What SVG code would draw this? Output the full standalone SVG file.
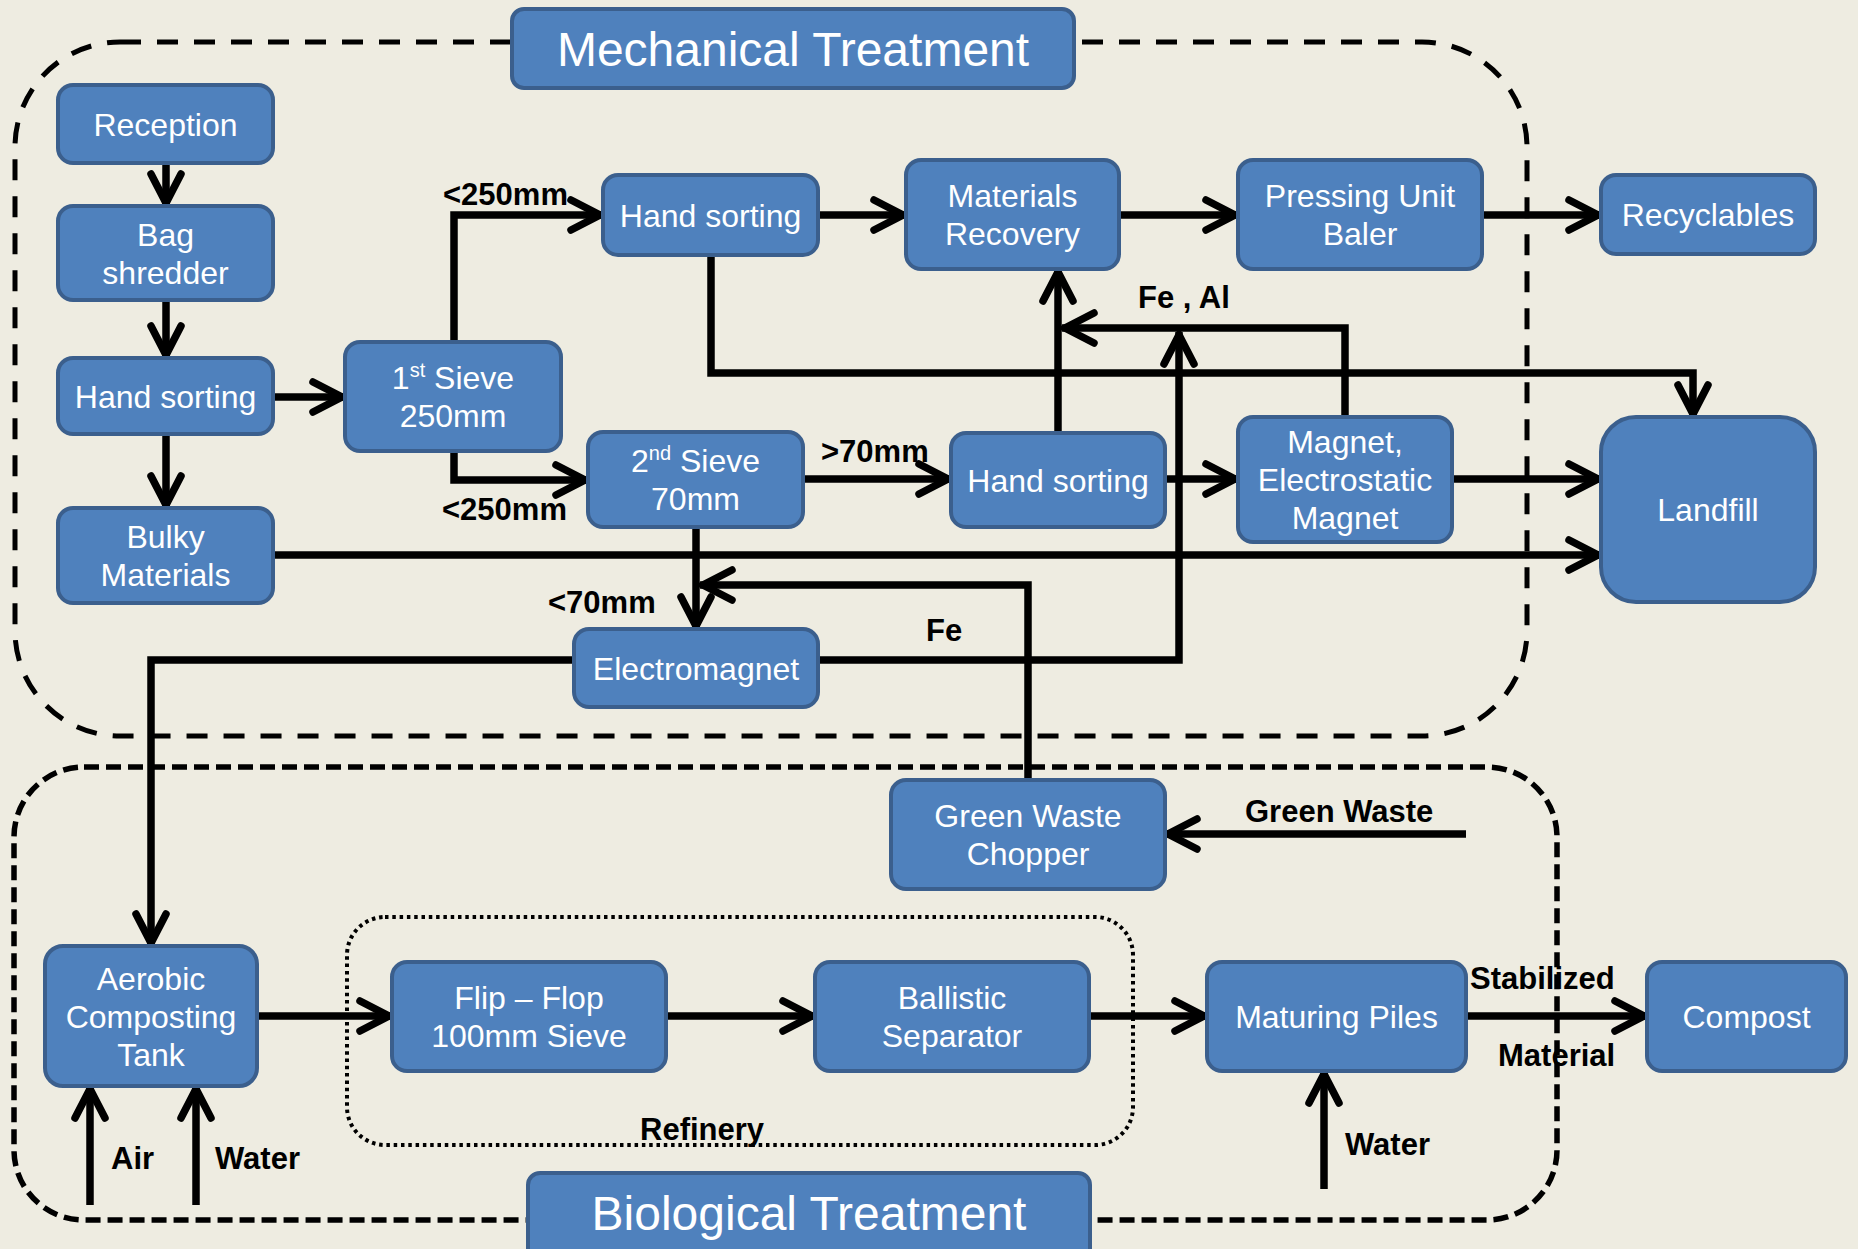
<svg xmlns="http://www.w3.org/2000/svg" width="1858" height="1249" viewBox="0 0 1858 1249">
  <style>
    .node rect { fill: #4F81BD; stroke: #3B5F8D; stroke-width: 4; }
    .node text { fill: #FFFFFF; font-family: "Liberation Sans", Arial, sans-serif; font-size: 32px; text-anchor: middle; }
    .title text { font-size: 48px; }
    .lbl { fill: #000000; font-family: "Liberation Sans", Arial, sans-serif; font-size: 31px; font-weight: bold; }
    .conn { fill: none; stroke: #000000; stroke-width: 7.5; stroke-linejoin: miter; marker-end: url(#arrow); }
    .zone { fill: none; stroke: #000000; }
  </style>
  <defs>
    <marker id="arrow" markerUnits="userSpaceOnUse" orient="auto" refX="0" refY="0" markerWidth="60" markerHeight="60" overflow="visible">
      <path d="M-32,-15 L-3,0 L-32,15" fill="none" stroke="#000000" stroke-width="7.5" stroke-linecap="round" stroke-linejoin="miter"/>
    </marker>
  </defs>

  <!-- background -->
  <rect x="0" y="0" width="1858" height="1249" fill="#EEECE1"/>

  <!-- treatment zones -->
  <g id="zones">
    <rect class="zone" x="15" y="42" width="1512" height="694" rx="105" ry="105" stroke-width="5" stroke-dasharray="21 16"/>
    <rect class="zone" x="14" y="767" width="1543" height="453" rx="70" ry="70" stroke-width="5.5" stroke-dasharray="15 7"/>
    <rect class="zone" x="347" y="917" width="786" height="228" rx="38" ry="38" stroke-width="4" stroke-dasharray="3.5 3.8"/>
  </g>

  <!-- connectors -->
  <g id="connectors">
    <path class="conn" d="M166,163 V206"/>
    <path class="conn" d="M166,300 V358"/>
    <path class="conn" d="M166,434 V508"/>
    <path class="conn" d="M273,397 H345"/>
    <path class="conn" d="M454,342 V215 H603"/>
    <path class="conn" d="M454,451 V480 H588"/>
    <path class="conn" d="M818,215 H906"/>
    <path class="conn" d="M1119,215 H1238"/>
    <path class="conn" d="M1482,215 H1601"/>
    <path class="conn" d="M711,255 V373 H1693 V417"/>
    <path class="conn" d="M803,479 H951"/>
    <path class="conn" d="M1058,433 V269"/>
    <path class="conn" d="M1345,417 V328 H1062"/>
    <path class="conn" d="M1165,479 H1238"/>
    <path class="conn" d="M1452,479 H1601"/>
    <path class="conn" d="M273,555 H1601"/>
    <path class="conn" d="M696,527 V629"/>
    <path class="conn" d="M818,660 H1179 V332"/>
    <path class="conn" d="M574,660 H151 V946"/>
    <path class="conn" d="M1028,780 V585 H700"/>
    <path class="conn" d="M1466,834 H1165"/>
    <path class="conn" d="M257,1016 H392"/>
    <path class="conn" d="M666,1016 H815"/>
    <path class="conn" d="M1089,1016 H1207"/>
    <path class="conn" d="M1466,1016 H1647"/>
    <path class="conn" d="M90,1205 V1086"/>
    <path class="conn" d="M196,1205 V1086"/>
    <path class="conn" d="M1324,1189 V1071"/>
  </g>

  <!-- flow labels -->
  <g id="labels">
    <text class="lbl" x="443" y="205">&lt;250mm</text>
    <text class="lbl" x="442" y="520">&lt;250mm</text>
    <text class="lbl" x="821" y="462">&gt;70mm</text>
    <text class="lbl" x="1138" y="308">Fe , Al</text>
    <text class="lbl" x="548" y="613">&lt;70mm</text>
    <text class="lbl" x="926" y="641">Fe</text>
    <text class="lbl" x="1245" y="822">Green Waste</text>
    <text class="lbl" x="1470" y="989">Stabilized</text>
    <text class="lbl" x="1498" y="1066">Material</text>
    <text class="lbl" x="111" y="1169">Air</text>
    <text class="lbl" x="215" y="1169">Water</text>
    <text class="lbl" x="640" y="1140">Refinery</text>
    <text class="lbl" x="1345" y="1155">Water</text>
  </g>

  <!-- section titles -->
  <g id="mechanical-title" class="node title">
    <rect x="512" y="9" width="562" height="79" rx="12"/>
    <text x="793" y="66">Mechanical Treatment</text>
  </g>
  <g id="biological-title" class="node title">
    <rect x="528" y="1173" width="562" height="90" rx="12"/>
    <text x="809" y="1230">Biological Treatment</text>
  </g>

  <!-- mechanical treatment nodes -->
  <g id="reception" class="node">
    <rect x="58" y="85" width="215" height="78" rx="15"/>
    <text x="165.5" y="135.5">Reception</text>
  </g>
  <g id="bag-shredder" class="node">
    <rect x="58" y="206" width="215" height="94" rx="15"/>
    <text x="165.5" y="245.5">Bag</text>
    <text x="165.5" y="283.5">shredder</text>
  </g>
  <g id="hand-sorting-1" class="node">
    <rect x="58" y="358" width="215" height="76" rx="15"/>
    <text x="165.5" y="407.5">Hand sorting</text>
  </g>
  <g id="bulky-materials" class="node">
    <rect x="58" y="508" width="215" height="95" rx="15"/>
    <text x="165.5" y="548">Bulky</text>
    <text x="165.5" y="586">Materials</text>
  </g>
  <g id="sieve-1" class="node">
    <rect x="345" y="342" width="216" height="109" rx="15"/>
    <text x="453" y="389">1<tspan font-size="20" dy="-12">st</tspan><tspan dy="12"> Sieve</tspan></text>
    <text x="453" y="427">250mm</text>
  </g>
  <g id="sieve-2" class="node">
    <rect x="588" y="432" width="215" height="95" rx="15"/>
    <text x="695.5" y="472">2<tspan font-size="20" dy="-12">nd</tspan><tspan dy="12"> Sieve</tspan></text>
    <text x="695.5" y="510">70mm</text>
  </g>
  <g id="hand-sorting-2" class="node">
    <rect x="603" y="175" width="215" height="80" rx="15"/>
    <text x="710.5" y="226.5">Hand sorting</text>
  </g>
  <g id="materials-recovery" class="node">
    <rect x="906" y="160" width="213" height="109" rx="15"/>
    <text x="1012.5" y="207">Materials</text>
    <text x="1012.5" y="245">Recovery</text>
  </g>
  <g id="pressing-unit" class="node">
    <rect x="1238" y="160" width="244" height="109" rx="15"/>
    <text x="1360" y="207">Pressing Unit</text>
    <text x="1360" y="245">Baler</text>
  </g>
  <g id="recyclables" class="node">
    <rect x="1601" y="175" width="214" height="79" rx="15"/>
    <text x="1708" y="226">Recyclables</text>
  </g>
  <g id="hand-sorting-3" class="node">
    <rect x="951" y="433" width="214" height="94" rx="15"/>
    <text x="1058" y="491.5">Hand sorting</text>
  </g>
  <g id="magnet" class="node">
    <rect x="1238" y="417" width="214" height="125" rx="15"/>
    <text x="1345" y="453">Magnet,</text>
    <text x="1345" y="491">Electrostatic</text>
    <text x="1345" y="529">Magnet</text>
  </g>
  <g id="landfill" class="node">
    <rect x="1601" y="417" width="214" height="185" rx="35"/>
    <text x="1708" y="521">Landfill</text>
  </g>
  <g id="electromagnet" class="node">
    <rect x="574" y="629" width="244" height="78" rx="15"/>
    <text x="696" y="679.5">Electromagnet</text>
  </g>

  <!-- biological treatment nodes -->
  <g id="green-waste-chopper" class="node">
    <rect x="891" y="780" width="274" height="109" rx="15"/>
    <text x="1028" y="827">Green Waste</text>
    <text x="1028" y="865">Chopper</text>
  </g>
  <g id="aerobic-tank" class="node">
    <rect x="45" y="946" width="212" height="140" rx="18"/>
    <text x="151" y="990">Aerobic</text>
    <text x="151" y="1028">Composting</text>
    <text x="151" y="1066">Tank</text>
  </g>
  <g id="flip-flop" class="node">
    <rect x="392" y="962" width="274" height="109" rx="15"/>
    <text x="529" y="1009">Flip – Flop</text>
    <text x="529" y="1047">100mm Sieve</text>
  </g>
  <g id="ballistic-separator" class="node">
    <rect x="815" y="962" width="274" height="109" rx="15"/>
    <text x="952" y="1009">Ballistic</text>
    <text x="952" y="1047">Separator</text>
  </g>
  <g id="maturing-piles" class="node">
    <rect x="1207" y="962" width="259" height="109" rx="15"/>
    <text x="1336.5" y="1028">Maturing Piles</text>
  </g>
  <g id="compost" class="node">
    <rect x="1647" y="962" width="199" height="109" rx="15"/>
    <text x="1746.5" y="1028">Compost</text>
  </g>
</svg>
